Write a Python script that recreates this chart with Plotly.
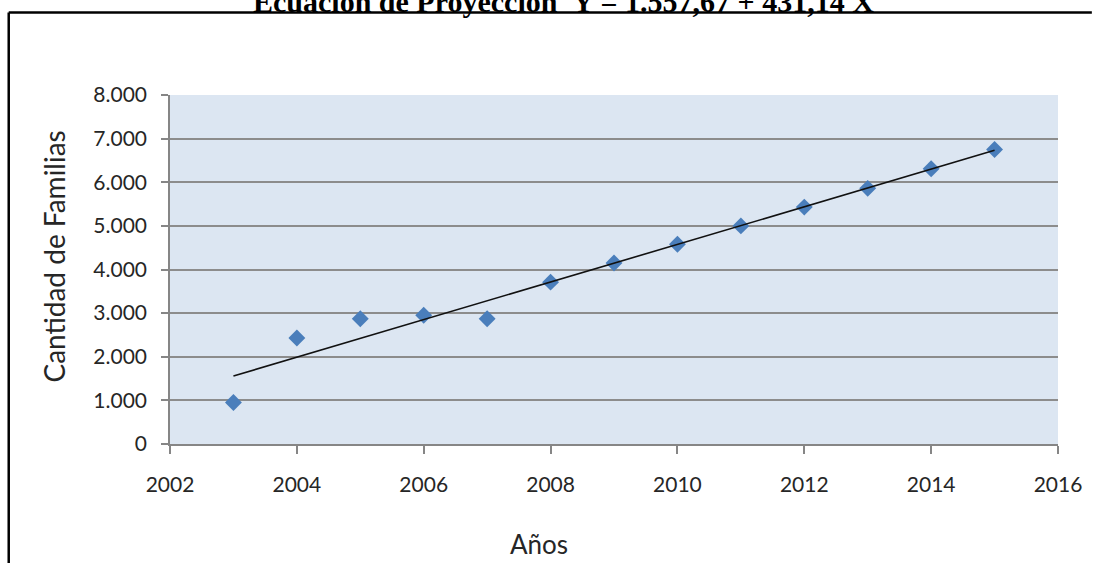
import plotly.graph_objects as go

# Data
years = [2003, 2004, 2005, 2006, 2007, 2008, 2009, 2010, 2011, 2012, 2013, 2014, 2015]
familias = [950, 2430, 2870, 2950, 2870, 3710, 4150, 4580, 5000, 5430, 5860, 6310, 6750]

# Linear trend (projection) line endpoints, consistent with the title equation
trend_years = [2003, 2015]
trend_values = [1557.67, 6731.35]

title_text = "Ecuación de Proyección\u00a0\u00a0Y = 1.557,67 + 431,14 X"
x_title = "Años"
y_title = "Cantidad de Familias"

x_ticks = [2002, 2004, 2006, 2008, 2010, 2012, 2014, 2016]
y_ticks = [0, 1000, 2000, 3000, 4000, 5000, 6000, 7000, 8000]

W, H = 1094, 563
L, R, T, B = 170, 32, 95, 119
pw, ph = W - L - R, H - T - B

def px_x(p):
    return (p - L) / pw

def px_y(p):
    return (H - B - p) / ph

fig = go.Figure()
fig.add_trace(go.Scatter(
    x=years, y=familias, mode="markers",
    marker=dict(symbol="diamond", size=13, color="#4a7ebb", line=dict(width=0)),
    showlegend=False, hoverinfo="x+y",
))
fig.add_trace(go.Scatter(
    x=trend_years, y=trend_values, mode="lines",
    line=dict(color="#111111", width=1.6),
    showlegend=False, hoverinfo="skip",
))

tick_font = dict(family="Lato", size=21, color="#262626")
axis_color = "#868686"

fig.update_layout(
    width=W, height=H, autosize=False,
    margin=dict(l=L, r=R, t=T, b=B, pad=0),
    paper_bgcolor="white",
    plot_bgcolor="#dce6f2",
    separators=",.",
    xaxis=dict(
        range=[2002, 2016], tickvals=x_ticks, ticks="outside", ticklen=8,
        tickcolor=axis_color, tickwidth=1.5, showline=True, linecolor=axis_color,
        linewidth=1.5, showgrid=False, zeroline=False, tickfont=tick_font,
        ticklabelstandoff=13, fixedrange=True,
    ),
    yaxis=dict(
        range=[0, 8000], tickvals=y_ticks, tickformat=",d", ticks="outside", ticklen=7,
        tickcolor=axis_color, tickwidth=1.5, showline=True, linecolor=axis_color,
        linewidth=1.5, showgrid=True, gridcolor="#8c8c8c", gridwidth=1.5,
        zeroline=False, tickfont=tick_font, ticklabelstandoff=10, fixedrange=True,
    ),
    shapes=[
        dict(type="line", xref="paper", yref="paper",
             x0=px_x(8), x1=px_x(1096), y0=px_y(12.5), y1=px_y(12.5),
             line=dict(color="black", width=2.5), layer="above"),
        dict(type="line", xref="paper", yref="paper",
             x0=px_x(8), x1=px_x(8), y0=px_y(12.5), y1=px_y(565),
             line=dict(color="black", width=2.5), layer="above"),
    ],
    annotations=[
        dict(text=title_text, xref="paper", yref="paper", x=px_x(565), y=px_y(20),
             xanchor="center", yanchor="bottom", showarrow=False,
             font=dict(family="Liberation Serif", size=30, color="black", weight="bold")),
        dict(text=x_title, xref="paper", yref="paper", x=px_x(541), y=px_y(544),
             xanchor="center", yanchor="middle", showarrow=False,
             font=dict(family="Lato", size=26, color="#262626")),
        dict(text=y_title, xref="paper", yref="paper", x=px_x(53), y=px_y(257),
             xanchor="center", yanchor="middle", showarrow=False, textangle=-90,
             font=dict(family="Lato", size=28, color="#262626")),
    ],
)

fig.write_html("out.html", config={"displayModeBar": False})
